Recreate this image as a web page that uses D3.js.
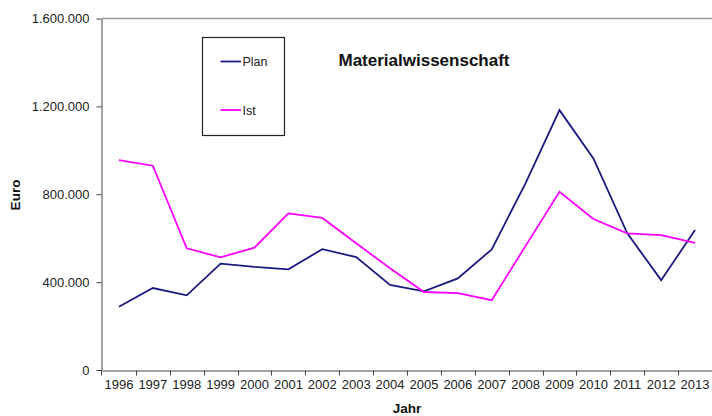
<!DOCTYPE html>
<html>
<head>
<meta charset="utf-8">
<script src="https://cdn.jsdelivr.net/npm/d3@7/dist/d3.min.js"></script>
<style>
  body { margin: 0; background: #fff; }
  text { font-family: "Liberation Sans", Arial, sans-serif; fill: #111; }
  .axis path, .axis line { stroke: #444; }
  .axis text { font-size: 13px; fill: #222; }
  .label { font-size: 13.5px; font-weight: bold; }
</style>
</head>
<body>
<svg id="chart" width="712" height="416"></svg>
<script>
const years = ["1996", "1997", "1998", "1999", "2000", "2001", "2002", "2003", "2004",
               "2005", "2006", "2007", "2008", "2009", "2010", "2011", "2012", "2013"];
const plan = [288000, 373000, 340000, 484000, 469000, 458000, 550000, 514000, 387000,
              358000, 417000, 549000, 851000, 1183000, 963000, 622000, 409000, 637000];
const ist = [955000, 930000, 554000, 513000, 557000, 713000, 692000, 577000, 463000,
             355000, 350000, 318000, 565000, 811000, 687000, 622000, 614000, 579000];
const yTicks = [0, 400000, 800000, 1200000, 1600000];
const seriesNames = ["Plan", "Ist"];
const colors = ["#1a1a80", "#ff00ff"];

const plotLeft = 102, plotRight = 712, plotTop = 18.5, plotBottom = 370;

const svg = d3.select("#chart");

let x = d3.scaleBand()
          .domain(years)
          .range([plotLeft, plotRight]);

let y = d3.scaleLinear()
          .domain([0, 1600000])
          .range([plotBottom, plotTop]);

const fmt = d3.formatLocale({decimal: ",", thousands: ".", grouping: [3], currency: ["", " €"]}).format(",.0f");

// top border line
svg.append("line")
   .attr("x1", plotLeft).attr("x2", plotRight)
   .attr("y1", plotTop).attr("y2", plotTop)
   .attr("stroke", "#999")
   .attr("stroke-width", 1.5);

// y-Axis
svg.append("g")
   .attr("class", "axis")
   .attr("transform", "translate(" + (plotLeft - 0.5) + ",0)")
   .call(d3.axisLeft(y).tickValues(yTicks).tickSize(5).tickSizeOuter(0).tickPadding(7).tickFormat(fmt));

// x-Axis (labels)
let xAxisG = svg.append("g")
   .attr("class", "axis")
   .attr("transform", "translate(0," + (plotBottom + 0.5) + ")")
   .call(d3.axisBottom(x).tickSize(0).tickSizeOuter(0).tickPadding(9));

// x-Axis ticks between categories
xAxisG.selectAll(".edge")
   .data(years.slice(1))
   .enter().append("line")
   .attr("class", "edge")
   .attr("x1", (d) => Math.round(x(d)) + 0.5)
   .attr("x2", (d) => Math.round(x(d)) + 0.5)
   .attr("y1", 0)
   .attr("y2", 5);

xAxisG.append("line")
   .attr("x1", plotLeft - 5).attr("x2", plotLeft)
   .attr("y1", 0).attr("y2", 0);
xAxisG.append("line")
   .attr("x1", plotLeft - 0.5).attr("x2", plotLeft - 0.5)
   .attr("y1", 0).attr("y2", 5);

// Lines
const line = d3.line()
               .x((d, i) => x(years[i]) + x.bandwidth() / 2)
               .y((d) => y(d));

[plan, ist].forEach((s, i) => {
  svg.append("path")
     .datum(s)
     .attr("fill", "none")
     .attr("stroke", colors[i])
     .attr("stroke-width", 1.8)
     .attr("d", line);
});

// Axis labels
svg.append("text")
   .attr("class", "label")
   .attr("x", 407)
   .attr("y", 413)
   .attr("text-anchor", "middle")
   .text("Jahr");

svg.append("text")
   .attr("class", "label")
   .attr("transform", "translate(20,195) rotate(-90)")
   .attr("text-anchor", "middle")
   .text("Euro");

// Title
svg.append("text")
   .attr("x", 424)
   .attr("y", 66)
   .attr("text-anchor", "middle")
   .style("font-size", "17px")
   .style("font-weight", "bold")
   .text("Materialwissenschaft");

// Legend
let legend = svg.append("g").attr("transform", "translate(202.5,37.5)");
legend.append("rect")
      .attr("width", 82)
      .attr("height", 98)
      .attr("fill", "none")
      .attr("stroke", "#222")
      .attr("stroke-width", 1.2);

seriesNames.forEach((name, i) => {
  let ly = 24 + i * 48.5;
  legend.append("line")
        .attr("x1", 18).attr("x2", 38.5)
        .attr("y1", ly).attr("y2", ly)
        .attr("stroke", colors[i])
        .attr("stroke-width", 1.8);
  legend.append("text")
        .attr("x", 40)
        .attr("y", ly + 4.5)
        .style("font-size", "12.5px")
        .style("fill", "#222")
        .text(name);
});
</script>
</body>
</html>
